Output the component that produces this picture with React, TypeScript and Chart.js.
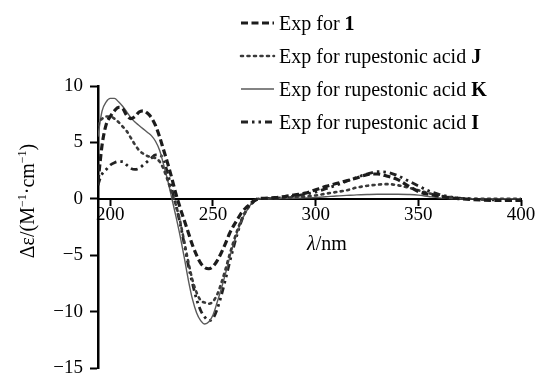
import React, { useEffect, useRef } from 'react';
import { Chart, registerables } from 'chart.js';

Chart.register(...registerables);

// ---- data ----
const wavelengths = [
  194, 195, 196, 198, 200, 202, 204, 206, 208, 210, 212, 214, 216, 218, 220, 222, 224, 226, 228, 230,
  232, 234, 236, 238, 240, 242, 244, 246, 248, 250, 252, 254, 256, 258, 260, 262, 264, 266, 268, 270, 272,
  275, 280, 285, 290, 295, 300, 305, 310, 315, 320, 325, 330, 335, 340, 345, 350, 355, 360, 365, 370, 375, 380, 390, 400,
];

const exp1 = [
  1.5, 3.2, 4.8, 6.6, 7.3, 7.8, 8.1, 8.0, 7.4, 7.1, 7.3, 7.7, 7.8, 7.6, 7.2, 6.5, 5.5, 4.3, 3.1, 1.8,
  0.4, -0.8, -1.9, -3.0, -4.1, -5.0, -5.7, -6.1, -6.2, -6.0, -5.5, -4.8, -4.0, -3.1, -2.4, -1.8, -1.2, -0.8, -0.5, -0.2, 0,
  0.05, 0.1, 0.2, 0.35, 0.5, 0.8, 1.1, 1.35, 1.6, 1.85, 2.15, 2.2, 2.0, 1.7, 1.15, 0.65, 0.4, 0.25, 0.1, 0.02, -0.05, -0.1, -0.15, -0.15,
];

const acidJ = [
  6.5, 6.9, 7.1, 7.3, 7.3, 7.1, 6.8, 6.4, 6.0, 5.4, 4.8, 4.3, 4.0, 3.8, 3.7, 3.6, 3.3, 2.6, 1.6, 0.5,
  -0.6, -2.0, -3.8, -5.6, -7.2, -8.3, -9.0, -9.2, -9.3, -9.1, -8.5, -7.5, -6.3, -5.0, -3.8, -2.7, -1.8, -1.1, -0.6, -0.25, 0,
  0.02, 0.05, 0.1, 0.15, 0.2, 0.3, 0.45, 0.6, 0.75, 1.0, 1.15, 1.25, 1.3, 1.2, 1.0, 0.75, 0.5, 0.3, 0.15, 0.05, 0, 0, 0, 0,
];

const acidK = [
  5.5, 6.8, 7.8, 8.6, 8.9, 8.9, 8.6, 8.2, 7.7, 7.2, 6.8, 6.5, 6.2, 5.9, 5.6, 5.1, 4.3, 3.0, 1.6, 0,
  -1.6, -3.3, -5.2, -7.2, -8.9, -10.1, -10.8, -11.1, -10.9, -10.3, -9.2, -8.0, -6.7, -5.3, -4.0, -2.9, -1.9, -1.2, -0.6, -0.2, 0,
  0, 0.02, 0.03, 0.05, 0.08, 0.12, 0.18, 0.25, 0.3, 0.35, 0.38, 0.4, 0.4, 0.4, 0.38, 0.33, 0.2, 0.08, 0.02, 0, 0, 0, 0, 0,
];

const acidI = [
  1.2, 1.8, 2.2, 2.6, 3.0, 3.2, 3.3, 3.3, 3.0, 2.7, 2.6, 2.7, 3.0, 3.3, 3.6, 3.9, 3.9, 3.4, 2.2, 0.8,
  -0.6, -2.2, -4.0, -5.9, -7.5, -8.9, -9.9, -10.5, -10.8, -10.6, -9.8, -8.6, -7.2, -5.7, -4.3, -3.0, -1.9, -1.1, -0.5, -0.15, 0,
  0.02, 0.05, 0.12, 0.25, 0.4, 0.6, 0.9, 1.2, 1.55, 1.9, 2.2, 2.4, 2.35, 2.05, 1.6, 1.15, 0.7, 0.4, 0.2, 0.05, 0, -0.05, -0.1, -0.1,
];

const xTickValues = [200, 250, 300, 350, 400];
const yTickValues = [-15, -10, -5, 0, 5, 10];

const seriesPlain = ['Exp for ', 'Exp for rupestonic acid ', 'Exp for rupestonic acid ', 'Exp for rupestonic acid '];
const seriesBold = ['1', 'J', 'K', 'I'];

// ---- styles ----
const FONT = '"Liberation Serif", "Times New Roman", serif';
const styles = [
  { color: '#1c1c1c', width: 3.2, dash: [7, 3.5], cap: 'butt' },
  { color: '#3a3a3a', width: 2.6, dash: [2, 4.5], cap: 'round' },
  { color: '#5a5a5a', width: 1.4, dash: [], cap: 'butt' },
  { color: '#222222', width: 2.8, dash: [7, 4, 2.5, 4, 2.5, 4], cap: 'butt' },
];

type Run = { text: string; font: string; dy?: number };

function drawRuns(ctx: CanvasRenderingContext2D, runs: Run[], x: number, y: number, align: 'left' | 'center') {
  let total = 0;
  for (const r of runs) {
    ctx.font = r.font;
    total += ctx.measureText(r.text).width;
  }
  let cx = align === 'center' ? x - total / 2 : x;
  ctx.textAlign = 'left';
  for (const r of runs) {
    ctx.font = r.font;
    ctx.fillText(r.text, cx, y + (r.dy || 0));
    cx += ctx.measureText(r.text).width;
  }
}

const textPlugin = {
  id: 'textPlugin',
  afterDraw(chart: any) {
    const ctx: CanvasRenderingContext2D = chart.ctx;
    ctx.save();
    ctx.fillStyle = '#000';
    ctx.textBaseline = 'alphabetic';

    // legend
    const baselines = [29.5, 62.5, 95.5, 128.5];
    for (let i = 0; i < seriesBold.length; i++) {
      const st = styles[i];
      const ly = baselines[i] - 6.5;
      ctx.save();
      ctx.strokeStyle = st.color;
      ctx.lineWidth = st.width;
      ctx.lineCap = st.cap as CanvasLineCap;
      ctx.setLineDash(st.dash);
      ctx.beginPath();
      ctx.moveTo(241, ly);
      ctx.lineTo(274, ly);
      ctx.stroke();
      ctx.restore();
      drawRuns(
        ctx,
        [
          { text: seriesPlain[i], font: `20px ${FONT}` },
          { text: seriesBold[i], font: `bold 20px ${FONT}` },
        ],
        279,
        baselines[i],
        'left'
      );
    }

    // x-axis title
    drawRuns(
      ctx,
      [
        { text: 'λ', font: `italic 20px ${FONT}` },
        { text: '/nm', font: `20px ${FONT}` },
      ],
      327,
      250,
      'center'
    );

    // y-axis title
    ctx.save();
    ctx.translate(34, 201);
    ctx.rotate(-Math.PI / 2);
    drawRuns(
      ctx,
      [
        { text: 'Δε/(M', font: `20px ${FONT}` },
        { text: '−1', font: `12px ${FONT}`, dy: -8 },
        { text: '·cm', font: `20px ${FONT}` },
        { text: '−1', font: `12px ${FONT}`, dy: -8 },
        { text: ')', font: `20px ${FONT}` },
      ],
      0,
      0,
      'center'
    );
    ctx.restore();

    ctx.restore();
  },
};

export default function App() {
  const canvasRef = useRef<HTMLCanvasElement | null>(null);

  useEffect(() => {
    document.body.style.margin = '0';
    const canvas = canvasRef.current;
    if (!canvas) return;

    const seriesData = [exp1, acidJ, acidK, acidI];
    const datasets = seriesData.map((vals, i) => ({
      label: seriesPlain[i] + seriesBold[i],
      data: wavelengths.map((w, j) => ({ x: w, y: vals[j] })),
      borderColor: styles[i].color,
      borderWidth: styles[i].width,
      borderDash: styles[i].dash,
      borderCapStyle: styles[i].cap,
      pointRadius: 0,
      fill: false,
      cubicInterpolationMode: 'monotone' as const,
    }));

    const chart = new Chart(canvas, {
      type: 'line',
      data: { datasets },
      options: {
        animation: false,
        responsive: false,
        devicePixelRatio: 1,
        layout: { padding: { left: 0, top: 86, right: 19, bottom: 7 } },
        plugins: {
          legend: { display: false },
          tooltip: { enabled: false },
          title: { display: false },
        },
        scales: {
          x: {
            type: 'linear',
            min: 194,
            max: 400,
            position: { y: 0 } as any,
            afterBuildTicks: (scale: any) => {
              scale.ticks = xTickValues.map((v) => ({ value: v }));
            },
            grid: {
              display: true,
              drawOnChartArea: false,
              drawTicks: true,
              tickLength: 6,
              tickWidth: 2,
              tickColor: '#000',
            },
            border: { display: true, color: '#000', width: 2 },
            ticks: {
              color: '#000',
              font: { family: FONT, size: 19 },
              padding: -1,
              maxRotation: 0,
              autoSkip: false,
              callback: (v: any) => String(v),
            },
          },
          y: {
            type: 'linear',
            min: -15,
            max: 10,
            position: 'left',
            afterBuildTicks: (scale: any) => {
              scale.ticks = yTickValues.map((v) => ({ value: v }));
            },
            afterFit: (scale: any) => {
              scale.width = 98;
              scale.paddingTop = 0;
              scale.paddingBottom = 0;
            },
            grid: {
              display: true,
              drawOnChartArea: false,
              drawTicks: true,
              tickLength: 8,
              tickWidth: 2,
              tickColor: '#000',
            },
            border: { display: true, color: '#000', width: 2.5 },
            ticks: {
              color: '#000',
              font: { family: FONT, size: 19 },
              padding: 7,
              autoSkip: false,
              callback: (v: any) => (v < 0 ? '−' + Math.abs(v) : String(v)),
            },
          },
        },
      },
      plugins: [textPlugin],
    });

    return () => {
      chart.destroy();
    };
  }, []);

  return (
    <div style={{ position: 'absolute', left: 0, top: 0, width: 540, height: 375 }}>
      <canvas ref={canvasRef} width={540} height={375} style={{ display: 'block' }} />
    </div>
  );
}
